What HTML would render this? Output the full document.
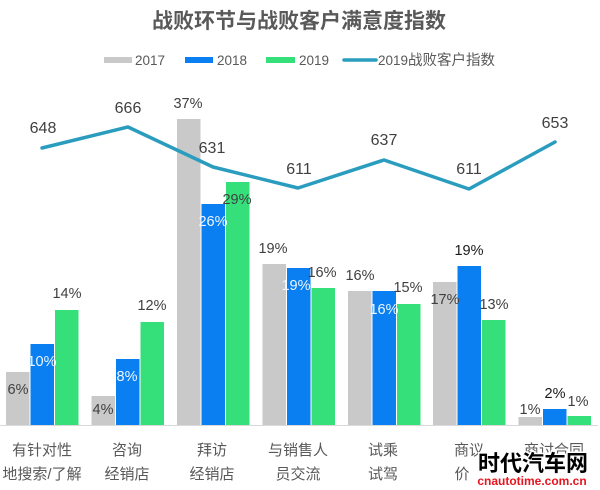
<!DOCTYPE html>
<html><head><meta charset="utf-8">
<style>
html,body{margin:0;padding:0;background:#fff;}
svg{display:block;}
text{font-family:"Liberation Sans","Noto Sans CJK SC",sans-serif;}
</style></head>
<body>
<svg width="600" height="490" viewBox="0 0 600 490" xmlns="http://www.w3.org/2000/svg">
<rect width="600" height="490" fill="#fff"/>
<!-- title -->
<text x="299" y="28" text-anchor="middle" font-size="21" font-weight="bold" fill="#595959">战败环节与战败客户满意度指数</text>
<!-- legend -->
<rect x="104" y="57" width="28" height="6" fill="#c9c9c9"/>
<text x="135" y="65" font-size="13.5" fill="#595959">2017</text>
<rect x="185" y="57" width="28" height="6" fill="#0a7ff2"/>
<text x="217" y="65" font-size="13.5" fill="#595959">2018</text>
<rect x="266" y="57" width="29" height="6" fill="#35e07a"/>
<text x="299" y="65" font-size="13.5" fill="#595959">2019</text>
<line x1="344" y1="60" x2="376" y2="60" stroke="#2a9dbf" stroke-width="3.5" stroke-linecap="round"/>
<text x="378" y="65" font-size="13.5" fill="#595959">2019<tspan font-size="14.5">战败客户指数</tspan></text>

<!-- axis -->
<line x1="0" y1="425.5" x2="598" y2="425.5" stroke="#d9d9d9" stroke-width="1"/>

<!-- bars -->
<g>
<!-- G1 -->
<rect x="6" y="372" width="23.5" height="53" fill="#c9c9c9"/>
<rect x="30.5" y="344" width="23.5" height="81" fill="#0a7ff2"/>
<rect x="55" y="310" width="23.5" height="115" fill="#35e07a"/>
<!-- G2 -->
<rect x="91.5" y="396" width="23.5" height="29" fill="#c9c9c9"/>
<rect x="116" y="359" width="23.5" height="66" fill="#0a7ff2"/>
<rect x="140.5" y="322" width="23.5" height="103" fill="#35e07a"/>
<!-- G3 -->
<rect x="177" y="119" width="23.5" height="306" fill="#c9c9c9"/>
<rect x="201.5" y="204" width="23.5" height="221" fill="#0a7ff2"/>
<rect x="226" y="182" width="23.5" height="243" fill="#35e07a"/>
<!-- G4 -->
<rect x="262.5" y="264" width="23.5" height="161" fill="#c9c9c9"/>
<rect x="287" y="268" width="23.5" height="157" fill="#0a7ff2"/>
<rect x="311.5" y="288" width="23.5" height="137" fill="#35e07a"/>
<!-- G5 -->
<rect x="348" y="291" width="23.5" height="134" fill="#c9c9c9"/>
<rect x="372.5" y="291" width="23.5" height="134" fill="#0a7ff2"/>
<rect x="397" y="304" width="23.5" height="121" fill="#35e07a"/>
<!-- G6 -->
<rect x="433" y="282" width="23.5" height="143" fill="#c9c9c9"/>
<rect x="457.5" y="266" width="23.5" height="159" fill="#0a7ff2"/>
<rect x="482" y="320" width="23.5" height="105" fill="#35e07a"/>
<!-- G7 -->
<rect x="518.5" y="417" width="23.5" height="8" fill="#c9c9c9"/>
<rect x="543" y="409" width="23.5" height="16" fill="#0a7ff2"/>
<rect x="567.5" y="416" width="23.5" height="9" fill="#35e07a"/>
</g>

<!-- line -->
<polyline points="42,148 128,127 213,167 298,188 384,160 469,189 555,142" fill="none" stroke="#2a9dbf" stroke-width="3.5" stroke-linejoin="round" stroke-linecap="round"/>

<!-- line labels -->
<g font-size="16" fill="#404040" text-anchor="middle">
<text x="43" y="133">648</text>
<text x="128" y="113">666</text>
<text x="212" y="153">631</text>
<text x="299" y="174">611</text>
<text x="384" y="145">637</text>
<text x="469" y="174">611</text>
<text x="555" y="128">653</text>
</g>

<!-- bar labels -->
<g font-size="14.5" fill="#404040" text-anchor="middle">
<text x="18" y="394">6%</text>
<text x="67" y="298">14%</text>
<text x="103" y="414">4%</text>
<text x="152" y="310">12%</text>
<text x="188" y="108">37%</text>
<text x="237" y="204">29%</text>
<text x="273" y="253">19%</text>
<text x="322" y="277">16%</text>
<text x="360" y="280">16%</text>
<text x="408" y="292">15%</text>
<text x="445" y="304">17%</text>
<text x="469" y="255" fill="#1a1a1a">19%</text>
<text x="494" y="309">13%</text>
<text x="530" y="414">1%</text>
<text x="555" y="398" fill="#1a1a1a">2%</text>
<text x="578" y="406">1%</text>
</g>
<g font-size="14.5" fill="#eef7ff" text-anchor="middle">
<text x="42" y="366">10%</text>
<text x="127" y="381">8%</text>
<text x="213" y="226">26%</text>
<text x="296" y="290">19%</text>
<text x="384" y="314">16%</text>
</g>

<!-- category labels -->
<g font-size="15" fill="#595959" text-anchor="middle" font-family="'Noto Sans CJK SC',sans-serif">
<text x="42" y="455">有针对性</text>
<text x="42" y="479">地搜索/了解</text>
<text x="127" y="455">咨询</text>
<text x="127" y="479">经销店</text>
<text x="212" y="455">拜访</text>
<text x="212" y="479">经销店</text>
<text x="298" y="455">与销售人</text>
<text x="298" y="479">员交流</text>
<text x="383" y="455">试乘</text>
<text x="383" y="479">试驾</text>
<text x="469" y="455">商议</text>
<text x="462" y="479">价</text>
<text x="554" y="455">商讨合同</text>
</g>

<!-- watermark -->
<text x="533" y="471" text-anchor="middle" font-size="22" font-weight="bold" fill="#000" stroke="#fff" stroke-width="3" paint-order="stroke" font-family="'Noto Sans CJK SC',sans-serif">时代汽车网</text>
<text x="532" y="485" text-anchor="middle" font-size="12" font-weight="bold" fill="#e8141e" stroke="#fff" stroke-width="2" paint-order="stroke">cnautotime.com.cn</text>
</svg>
</body></html>
